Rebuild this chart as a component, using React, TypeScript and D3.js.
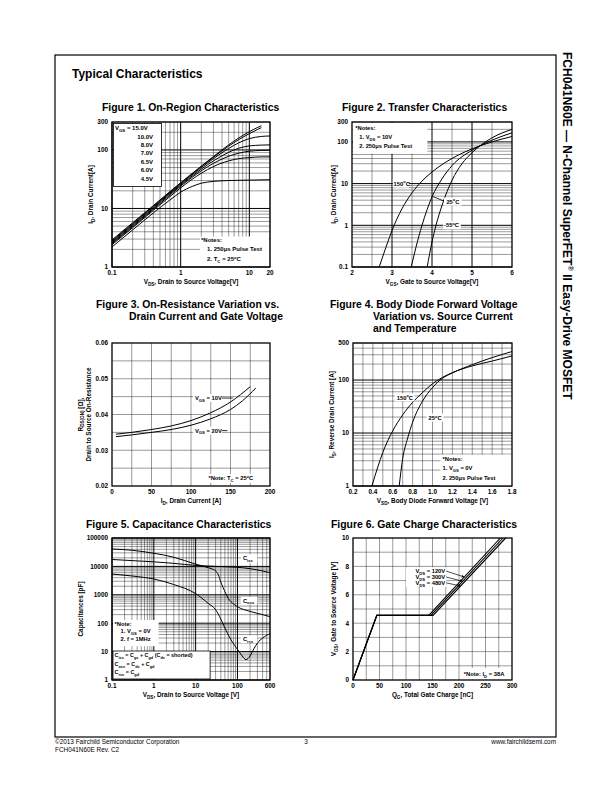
import * as d3 from 'd3';
import * as React from 'react';

type Pt = [number, number];

const FONT = "'Liberation Sans', Arial, Helvetica, sans-serif";

// ---- Figure 1: On-Region Characteristics (VDS [V], ID [A])
const f1Legend = ['10.0V', '8.0V', '7.0V', '6.5V', '6.0V', '4.5V'];
const f1Vgs15: Pt[] = [[0.1, 2.9], [0.2, 5.7], [0.4, 11.2], [0.7, 19.5], [1, 27.5], [2, 53], [3, 77], [5, 122], [7, 160], [10, 205], [13, 240], [15, 258]];
const f1Vgs10: Pt[] = [[0.1, 2.8], [0.2, 5.5], [0.4, 10.9], [0.7, 19], [1, 27], [2, 52], [3, 75], [5, 116], [7, 150], [10, 190], [13, 222], [15, 240]];
const f1Vgs8: Pt[] = [[0.1, 2.7], [0.2, 5.3], [0.4, 10.5], [0.7, 18.5], [1, 26], [2, 50], [3, 71], [5, 106], [7, 132], [10, 156], [15, 170], [20, 173]];
const f1Vgs7: Pt[] = [[0.1, 2.6], [0.2, 5.1], [0.4, 10.1], [0.7, 17.8], [1, 25], [2, 47], [3, 65], [5, 91], [7, 107], [10, 117], [15, 121], [20, 122]];
const f1Vgs65: Pt[] = [[0.1, 2.5], [0.2, 4.9], [0.4, 9.7], [0.7, 17], [1, 24], [2, 44], [3, 59], [5, 78], [7, 88], [10, 95], [15, 98], [20, 99]];
const f1Vgs6: Pt[] = [[0.1, 2.4], [0.2, 4.7], [0.4, 9.3], [0.7, 16], [1, 22.5], [2, 40], [3, 52], [5, 65], [7, 71], [10, 74], [15, 76], [20, 76]];
const f1Vgs45: Pt[] = [[0.1, 2.2], [0.2, 4.3], [0.4, 8.4], [0.7, 14], [1, 19], [1.5, 24], [2, 27], [3, 29], [5, 30], [10, 30.5], [20, 31]];
const f1XTicks = [0.1, 1, 10, 20];
const f1YTicks = [1, 10, 100, 300];

// ---- Figure 2: Transfer Characteristics (VGS [V], ID [A])
const f2T150: Pt[] = [[2.68, 0.1], [2.85, 0.3], [3.0, 0.75], [3.25, 2.5], [3.5, 6], [3.75, 11.5], [4, 19], [4.5, 40], [5, 68], [5.5, 100], [6, 135]];
const f2T25: Pt[] = [[3.48, 0.1], [3.6, 0.3], [3.75, 1], [4, 4.8], [4.25, 13], [4.5, 27], [5, 63], [5.5, 110], [6, 165]];
const f2Tm55: Pt[] = [[3.88, 0.1], [4.0, 0.4], [4.1, 1], [4.25, 3], [4.5, 12], [4.75, 30], [5, 55], [5.5, 125], [6, 200]];
const f2XTicks = [2, 3, 4, 5, 6];
const f2YTicks = [0.1, 1, 10, 100, 300];

// ---- Figure 3: On-Resistance (ID [A], RDS(on) [ohm])
const f3Vgs10: Pt[] = [[5, 0.0345], [25, 0.035], [50, 0.0358], [75, 0.0368], [100, 0.0383], [125, 0.0405], [150, 0.0435], [175, 0.0478]];
const f3Vgs20: Pt[] = [[5, 0.0338], [25, 0.0343], [50, 0.035], [75, 0.0358], [100, 0.037], [125, 0.0388], [150, 0.0414], [165, 0.0438], [182, 0.0474]];
const f3XTicks = [0, 50, 100, 150, 200];
const f3YTicks = [0.02, 0.03, 0.04, 0.05, 0.06];

// ---- Figure 4: Body Diode Forward Voltage (VSD [V], IS [A])
const f4T150: Pt[] = [[0.39, 1], [0.45, 2.3], [0.5, 4.3], [0.6, 11], [0.7, 22], [0.8, 38], [0.9, 58], [1.0, 85], [1.1, 112], [1.2, 138], [1.4, 185], [1.6, 228], [1.8, 285]];
const f4T25: Pt[] = [[0.665, 1], [0.7, 3.3], [0.75, 8], [0.8, 16], [0.9, 40], [1.0, 72], [1.1, 108], [1.2, 136], [1.4, 195], [1.6, 265], [1.8, 345]];
const f4XTicks = [0.2, 0.4, 0.6, 0.8, 1.0, 1.2, 1.4, 1.6, 1.8];
const f4YTicks = [1, 10, 100, 500];

// ---- Figure 5: Capacitance (VDS [V], C [pF])
const f5Ciss: Pt[] = [[0.1, 17500], [0.3, 16000], [1, 14500], [3, 12800], [10, 10800], [20, 10300], [30, 10000], [100, 9300], [200, 8300], [400, 6900], [600, 6000]];
const f5Coss: Pt[] = [[0.1, 41000], [0.3, 37000], [1, 29000], [3, 21000], [10, 12000], [20, 9000], [30, 7000], [35, 5000], [40, 2800], [50, 1300], [60, 750], [80, 480], [100, 380], [200, 260], [400, 200], [600, 170]];
const f5Crss: Pt[] = [[0.1, 5400], [0.3, 4600], [1, 3600], [3, 2300], [10, 1100], [20, 500], [30, 300], [40, 140], [50, 68], [70, 26], [100, 12], [130, 7], [160, 5.2], [200, 7], [250, 13], [300, 20], [400, 30], [600, 43]];
const f5XTicks = [0.1, 1, 10, 100, 600];
const f5YTicks = [1, 10, 100, 1000, 10000, 100000];

// ---- Figure 6: Gate Charge (QG [nC], VGS [V])
const f6Labels = ['V_{DS} = 120V', 'V_{DS} = 300V', 'V_{DS} = 480V'];
const f6Vds120: Pt[] = [[0, 0], [45, 4.55], [143, 4.55], [278, 10]];
const f6Vds300: Pt[] = [[0, 0], [45, 4.55], [147, 4.55], [283, 10]];
const f6Vds480: Pt[] = [[0, 0], [45, 4.55], [151, 4.55], [288, 10]];
const f6XTicks = [0, 50, 100, 150, 200, 250, 300];
const f6YTicks = [0, 2, 4, 6, 8, 10];

const isDecade = (v: number) => Math.abs(Math.log10(v) - Math.round(Math.log10(v))) < 1e-9;
const fmt = (v: number) => String(v);

function Rich({ s, x, y, size, anchor = 'start', rotate = 0, weight = 'bold' }: any) {
  const parts = s.split(/(_\{[^}]*\}|\^\{[^}]*\})/).filter((p: string) => p !== '');
  let cur = 0;
  const spans = parts.map((p: string, i: number) => {
    let dy = 0;
    let fs = size;
    let txt = p;
    if (p.startsWith('_{')) {
      const t = size * 0.3; dy = t - cur; cur = t; fs = size * 0.72; txt = p.slice(2, -1);
    } else if (p.startsWith('^{')) {
      const t = -size * 0.4; dy = t - cur; cur = t; fs = size * 0.68; txt = p.slice(2, -1);
    } else {
      dy = -cur; cur = 0;
    }
    return <tspan key={i} dy={dy} fontSize={fs}>{txt}</tspan>;
  });
  const tr = rotate ? `translate(${x},${y}) rotate(${rotate})` : undefined;
  return (
    <text x={rotate ? 0 : x} y={rotate ? 0 : y} transform={tr} textAnchor={anchor}
      fontFamily={FONT} fontWeight={weight} fontSize={size} fill="#000">{spans}</text>
  );
}

function Panel({ sx, sy, xGrid, yGrid, xMajor, yMajor, xTicks, yTicks, xFmt = fmt, yFmt = fmt, xLabel, yLabels, yLabelX, children }: any) {
  const [l, r] = sx.range();
  const [b, t] = sy.range();
  return (
    <g>
      {xGrid.map((v: number, i: number) => (
        <line key={'gx' + i} x1={sx(v)} x2={sx(v)} y1={t} y2={b} stroke="#000" strokeWidth={xMajor(v) ? 1 : 0.4} />
      ))}
      {yGrid.map((v: number, i: number) => (
        <line key={'gy' + i} x1={l} x2={r} y1={sy(v)} y2={sy(v)} stroke="#000" strokeWidth={yMajor(v) ? 1 : 0.4} />
      ))}
      {children}
      <rect x={l} y={t} width={r - l} height={b - t} fill="none" stroke="#000" strokeWidth={1.3} />
      {xTicks.map((v: number, i: number) => (
        <text key={'tx' + i} x={sx(v)} y={b + 8} textAnchor="middle" fontFamily={FONT} fontWeight="bold" fontSize={6.4}>{xFmt(v)}</text>
      ))}
      {yTicks.map((v: number, i: number) => (
        <text key={'ty' + i} x={l - 4} y={sy(v) + 2.3} textAnchor="end" fontFamily={FONT} fontWeight="bold" fontSize={6.4}>{yFmt(v)}</text>
      ))}
      <Rich s={xLabel} x={(l + r) / 2} y={b + 17} size={6.4} anchor="middle" />
      {yLabels.map((s: string, i: number) => (
        <Rich key={'yl' + i} s={s} x={yLabelX[i]} y={(t + b) / 2} size={6.4} anchor="middle" rotate={-90} />
      ))}
    </g>
  );
}

function Title({ lines, x, y }: { lines: [string, number][]; x: number; y: number }) {
  return (
    <g>
      {lines.map(([s, dx], i) => (
        <text key={i} x={x + dx} y={y + i * 11.8} fontFamily={FONT} fontWeight="bold" fontSize={10.4}>{s}</text>
      ))}
    </g>
  );
}

function Box({ x, y, w, h, stroke = false }: any) {
  return <rect x={x} y={y} width={w} height={h} fill="#fff" stroke={stroke ? '#000' : 'none'} strokeWidth={0.8} />;
}

function Fig1() {
  const sx = d3.scaleLog().domain([0.1, 20]).range([112, 270]);
  const sy = d3.scaleLog().domain([1, 300]).range([267, 122]);
  const line = d3.line<Pt>().x((d) => sx(d[0])).y((d) => sy(d[1])).curve(d3.curveMonotoneX);
  const curves = [f1Vgs15, f1Vgs10, f1Vgs8, f1Vgs7, f1Vgs65, f1Vgs6, f1Vgs45];
  return (
    <g>
      <Title lines={[['Figure 1. On-Region Characteristics', 0]]} x={102} y={111} />
      <Panel sx={sx} sy={sy} xGrid={sx.ticks()} yGrid={sy.ticks()} xMajor={isDecade} yMajor={isDecade}
        xTicks={f1XTicks} yTicks={f1YTicks} xLabel="V_{DS}, Drain to Source Voltage[V]"
        yLabels={['I_{D}, Drain Current[A]']} yLabelX={[93]}>
        {curves.map((c, i) => <path key={i} d={line(c) || ''} fill="none" stroke="#000" strokeWidth={1} />)}
        <Box x={113.5} y={123.5} w={48} h={63} stroke />
        <Rich s="V_{GS} = 15.0V" x={115} y={130} size={6} />
        {f1Legend.map((s, i) => <Rich key={i} s={s} x={153} y={138.5 + i * 8.4} size={6} anchor="end" />)}
        <Box x={200} y={236.5} w={69} h={29.5} />
        <Rich s="*Notes:" x={201} y={242} size={6} />
        <Rich s="1. 250μs Pulse Test" x={207} y={251} size={6} />
        <Rich s="2. T_{C} = 25^{o}C" x={207} y={261} size={6} />
      </Panel>
    </g>
  );
}

function Fig2() {
  const sx = d3.scaleLinear().domain([2, 6]).range([352, 512]);
  const sy = d3.scaleLog().domain([0.1, 300]).range([267, 122]);
  const line = d3.line<Pt>().x((d) => sx(d[0])).y((d) => sy(d[1])).curve(d3.curveMonotoneX);
  const xGrid = d3.range(2.5, 6, 0.5);
  return (
    <g>
      <Title lines={[['Figure 2. Transfer Characteristics', 0]]} x={342} y={111} />
      <Panel sx={sx} sy={sy} xGrid={xGrid} yGrid={sy.ticks()} xMajor={(v: number) => Number.isInteger(v)} yMajor={isDecade}
        xTicks={f2XTicks} yTicks={f2YTicks} xLabel="V_{GS}, Gate to Source Voltage[V]"
        yLabels={['I_{D}, Drain Current[A]']} yLabelX={[336]}>
        <Box x={sx(2) + 1} y={123} w={sx(3.86) - sx(2)} h={sy(52) - 123} />
        <Rich s="*Notes:" x={sx(2.08)} y={sy(218) + 2} size={5.8} />
        <Rich s="1. V_{DS} = 10V" x={sx(2.18)} y={sy(130) + 2} size={5.8} />
        <Rich s="2. 250μs Pulse Test" x={sx(2.18)} y={sy(78) + 2} size={5.8} />
        {[f2T150, f2T25, f2Tm55].map((c, i) => <path key={i} d={line(c) || ''} fill="none" stroke="#000" strokeWidth={1} />)}
        <Box x={sx(3.02)} y={sy(10) - 4} w={sx(3.42) - sx(3.02)} h={8} />
        <Rich s="150^{o}C" x={sx(3.04)} y={sy(10) + 2.2} size={5.8} />
        <line x1={sx(4.02)} y1={sy(4.9)} x2={sx(4.3)} y2={sy(3.8)} stroke="#000" strokeWidth={0.8} />
        <Box x={sx(4.3)} y={sy(3.7) - 4} w={sx(4.74) - sx(4.3)} h={8} />
        <Rich s="25^{o}C" x={sx(4.36)} y={sy(3.7) + 2.2} size={5.8} />
        <Box x={sx(4.28)} y={sy(1) - 4} w={sx(4.72) - sx(4.28)} h={8} />
        <Rich s="-55^{o}C" x={sx(4.3)} y={sy(1) + 2.2} size={5.8} />
      </Panel>
    </g>
  );
}

function Fig3() {
  const sx = d3.scaleLinear().domain([0, 200]).range([112, 270]);
  const sy = d3.scaleLinear().domain([0.02, 0.06]).range([486, 343]);
  const line = d3.line<Pt>().x((d) => sx(d[0])).y((d) => sy(d[1])).curve(d3.curveMonotoneX);
  return (
    <g>
      <Title lines={[['Figure 3. On-Resistance Variation vs.', 0], ['Drain Current and Gate Voltage', 33]]} x={96} y={308} />
      <Panel sx={sx} sy={sy} xGrid={d3.range(25, 200, 25)} yGrid={d3.range(0.025, 0.06, 0.005)}
        xMajor={() => false} yMajor={() => false}
        xTicks={f3XTicks} yTicks={f3YTicks} yFmt={(v: number) => v.toFixed(2)} xLabel="I_{D}, Drain Current [A]"
        yLabels={['R_{DS(ON)} [Ω],', 'Drain to Source On-Resistance']} yLabelX={[82.5, 91]}>
        {[f3Vgs10, f3Vgs20].map((c, i) => <path key={i} d={line(c) || ''} fill="none" stroke="#000" strokeWidth={1} />)}
        <Box x={sx(103)} y={sy(0.0446) - 4} w={sx(139) - sx(103)} h={8} />
        <Rich s="V_{GS} = 10V" x={sx(105)} y={sy(0.0446) + 2} size={5.8} />
        <line x1={sx(139)} x2={sx(153)} y1={sy(0.0446)} y2={sy(0.0446)} stroke="#000" strokeWidth={0.8} />
        <Box x={sx(103)} y={sy(0.0355) - 4} w={sx(139) - sx(103)} h={8} />
        <Rich s="V_{GS} = 20V" x={sx(105)} y={sy(0.0355) + 2} size={5.8} />
        <line x1={sx(139)} x2={sx(146)} y1={sy(0.0355)} y2={sy(0.0355)} stroke="#000" strokeWidth={0.8} />
        <Box x={sx(120)} y={sy(0.0221) - 4.5} w={sx(198) - sx(120)} h={9} />
        <Rich s="*Note: T_{C} = 25^{o}C" x={sx(122)} y={sy(0.0221) + 2} size={5.8} />
      </Panel>
    </g>
  );
}

function Fig4() {
  const sx = d3.scaleLinear().domain([0.2, 1.8]).range([353, 512]);
  const sy = d3.scaleLog().domain([1, 500]).range([486, 343]);
  const line = d3.line<Pt>().x((d) => sx(d[0])).y((d) => sy(d[1])).curve(d3.curveMonotoneX);
  const xGrid = d3.range(3, 18).map((k) => k / 10);
  return (
    <g>
      <Title lines={[['Figure 4. Body Diode Forward Voltage', 0], ['Variation vs. Source Current', 43], ['and Temperature', 43]]} x={330} y={308} />
      <Panel sx={sx} sy={sy} xGrid={xGrid} yGrid={sy.ticks()} xMajor={() => false} yMajor={isDecade}
        xTicks={f4XTicks} yTicks={f4YTicks} xFmt={(v: number) => v.toFixed(1)} xLabel="V_{SD}, Body Diode Forward Voltage [V]"
        yLabels={['I_{S}, Reverse Drain Current [A]']} yLabelX={[334]}>
        {[f4T150, f4T25].map((c, i) => <path key={i} d={line(c) || ''} fill="none" stroke="#000" strokeWidth={1} />)}
        <Box x={sx(0.62)} y={sy(47) - 4} w={sx(0.82) - sx(0.62)} h={8} />
        <Rich s="150^{o}C" x={sx(0.64)} y={sy(47) + 2.2} size={5.8} />
        <Box x={sx(0.94)} y={sy(19.5) - 4} w={sx(1.11) - sx(0.94)} h={8} />
        <Rich s="25^{o}C" x={sx(0.96)} y={sy(19.5) + 2.2} size={5.8} />
        <Box x={sx(1.08)} y={sy(3.9)} w={sx(1.8) - sx(1.08)} h={sy(1) - sy(3.9)} />
        <Rich s="*Notes:" x={sx(1.1)} y={sy(3.2) + 2} size={5.8} />
        <Rich s="1. V_{GS} = 0V" x={sx(1.1)} y={sy(2.2) + 2} size={5.8} />
        <Rich s="2. 250μs Pulse Test" x={sx(1.1)} y={sy(1.4) + 2} size={5.8} />
      </Panel>
    </g>
  );
}

function Fig5() {
  const sx = d3.scaleLog().domain([0.1, 600]).range([112, 270]);
  const sy = d3.scaleLog().domain([1, 100000]).range([680, 538]);
  const line = d3.line<Pt>().x((d) => sx(d[0])).y((d) => sy(d[1])).curve(d3.curveMonotoneX);
  return (
    <g>
      <Title lines={[['Figure 5. Capacitance Characteristics', 0]]} x={86} y={528} />
      <Panel sx={sx} sy={sy} xGrid={sx.ticks()} yGrid={sy.ticks()} xMajor={isDecade} yMajor={isDecade}
        xTicks={f5XTicks} yTicks={f5YTicks} xLabel="V_{DS}, Drain to Source Voltage [V]"
        yLabels={['Capacitances [pF]']} yLabelX={[83]}>
        {[f5Ciss, f5Coss, f5Crss].map((c, i) => <path key={i} d={line(c) || ''} fill="none" stroke="#000" strokeWidth={1} />)}
        <Box x={sx(120)} y={sy(27000)} w={sx(300) - sx(120)} h={sy(13500) - sy(27000)} />
        <Rich s="C_{iss}" x={sx(135)} y={sy(19000) + 2} size={5.8} />
        <Box x={sx(120)} y={sy(850)} w={sx(300) - sx(120)} h={sy(460) - sy(850)} />
        <Rich s="C_{oss}" x={sx(135)} y={sy(620) + 2} size={5.8} />
        <Box x={sx(120)} y={sy(37)} w={sx(300) - sx(120)} h={sy(20) - sy(37)} />
        <Rich s="C_{rss}" x={sx(135)} y={sy(27) + 2} size={5.8} />
        <Box x={sx(0.1) + 1} y={sy(130)} w={sx(1.23) - sx(0.1)} h={sy(15.5) - sy(130)} />
        <Rich s="*Note:" x={sx(0.115)} y={sy(95) + 2} size={5.8} />
        <Rich s="1. V_{GS} = 0V" x={sx(0.16)} y={sy(52) + 2} size={5.8} />
        <Rich s="2. f = 1MHz" x={sx(0.16)} y={sy(27) + 2} size={5.8} />
        <Box x={sx(0.1) + 1} y={sy(10.5)} w={sx(21) - sx(0.1)} h={sy(1) - sy(10.5) - 1} stroke />
        <Rich s="C_{iss} = C_{gs} + C_{gd} (C_{ds} = shorted)" x={sx(0.115)} y={sy(7.4) + 2} size={5.4} />
        <Rich s="C_{oss} = C_{ds} + C_{gd}" x={sx(0.115)} y={sy(3.6) + 2} size={5.4} />
        <Rich s="C_{rss} = C_{gd}" x={sx(0.115)} y={sy(1.9) + 2} size={5.4} />
      </Panel>
    </g>
  );
}

function Fig6() {
  const sx = d3.scaleLinear().domain([0, 300]).range([353, 512]);
  const sy = d3.scaleLinear().domain([0, 10]).range([680, 538]);
  const line = d3.line<Pt>().x((d) => sx(d[0])).y((d) => sy(d[1]));
  const labelY = [7.67, 7.25, 6.84];
  const targets: Pt[] = [[210, 7.25], [207, 6.95], [203, 6.62]];
  return (
    <g>
      <Title lines={[['Figure 6. Gate Charge Characteristics', 0]]} x={331} y={528} />
      <defs>
        <marker id="arr" viewBox="0 0 6 6" refX="6" refY="3" markerWidth="4" markerHeight="4" orient="auto">
          <path d="M0,0 L6,3 L0,6 z" fill="#000" />
        </marker>
      </defs>
      <Panel sx={sx} sy={sy} xGrid={d3.range(25, 300, 25)} yGrid={d3.range(1, 10, 1)} xMajor={() => false} yMajor={() => false}
        xTicks={f6XTicks} yTicks={f6YTicks} xLabel="Q_{G}, Total Gate Charge [nC]"
        yLabels={['V_{GS}, Gate to Source Voltage [V]']} yLabelX={[336]}>
        {[f6Vds120, f6Vds300, f6Vds480].map((c, i) => <path key={i} d={line(c) || ''} fill="none" stroke="#000" strokeWidth={1.1} />)}
        <Box x={sx(100)} y={sy(7.95)} w={sx(176) - sx(100)} h={sy(6.55) - sy(7.95)} />
        {f6Labels.map((s, i) => <Rich key={i} s={s} x={sx(174)} y={sy(labelY[i]) + 2} size={5.8} anchor="end" />)}
        {targets.map((p, i) => (
          <line key={'a' + i} x1={sx(176)} y1={sy(labelY[i])} x2={sx(p[0])} y2={sy(p[1])} stroke="#000" strokeWidth={0.7} markerEnd="url(#arr)" />
        ))}
        <Box x={sx(205)} y={sy(0.85)} w={sx(300) - sx(205) - 1} h={sy(0.05) - sy(0.85)} />
        <Rich s="*Note: I_{D} = 38A" x={sx(209)} y={sy(0.42) + 2} size={5.8} />
      </Panel>
    </g>
  );
}

export default function App() {
  return (
    <svg width={612} height={792} viewBox="0 0 612 792" style={{ position: 'absolute', left: 0, top: 0, background: '#fff' }}>
      <rect x={0} y={0} width={612} height={792} fill="#fff" />
      <rect x={55} y={55} width={501} height={682} fill="none" stroke="#000" strokeWidth={1.2} />
      <text x={72} y={78} fontFamily={FONT} fontWeight="bold" fontSize={12}>Typical Characteristics</text>
      <Fig1 />
      <Fig2 />
      <Fig3 />
      <Fig4 />
      <Fig5 />
      <Fig6 />
      <g transform="translate(563,52) rotate(90)">
        <text x={0} y={0} fontFamily={FONT} fontWeight="bold" fontSize={12}>
          FCH041N60E — N-Channel SuperFET<tspan dy={-4.5} fontSize={7.5}>®</tspan><tspan dy={4.5}> II Easy-Drive MOSFET</tspan>
        </text>
      </g>
      <text x={55} y={744} fontFamily={FONT} fontSize={6.4}>©2013 Fairchild Semiconductor Corporation</text>
      <text x={55} y={751.5} fontFamily={FONT} fontSize={6.4}>FCH041N60E Rev. C2</text>
      <text x={306} y={744} fontFamily={FONT} fontSize={6.4} textAnchor="middle">3</text>
      <text x={556} y={744} fontFamily={FONT} fontSize={6.4} textAnchor="end">www.fairchildsemi.com</text>
    </svg>
  );
}
